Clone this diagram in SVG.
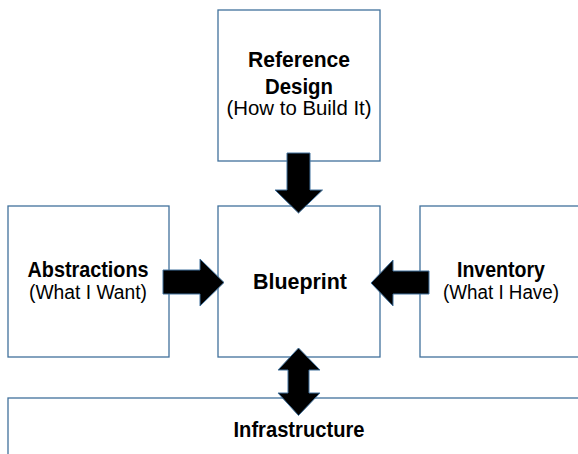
<svg xmlns="http://www.w3.org/2000/svg" width="578" height="454" viewBox="0 0 578 454">
<style>
.box{fill:#fff;stroke:#41719C;stroke-width:1.3}
.arr{fill:#000;stroke:#41719C;stroke-width:1}
.t{font-family:"Liberation Sans",Arial,sans-serif;font-size:22.5px;font-weight:bold;fill:#000;text-anchor:middle}
.s{font-family:"Liberation Sans",Arial,sans-serif;font-size:20px;fill:#000;text-anchor:middle}
</style>
<rect width="578" height="454" fill="#fff"/>
<g id="reference-design">
<rect class="box" x="218" y="10" width="162" height="151"/>
<text class="t" x="299" y="67" textLength="102" lengthAdjust="spacingAndGlyphs">Reference</text>
<text class="t" x="299" y="94" textLength="68" lengthAdjust="spacingAndGlyphs">Design</text>
<text class="s" x="299" y="115" textLength="145" lengthAdjust="spacingAndGlyphs">(How to Build It)</text>
</g>
<g id="abstractions">
<rect class="box" x="8" y="206" width="161" height="151"/>
<text class="t" x="88" y="277" textLength="121" lengthAdjust="spacingAndGlyphs">Abstractions</text>
<text class="s" x="88" y="299" textLength="118" lengthAdjust="spacingAndGlyphs">(What I Want)</text>
</g>
<g id="blueprint">
<rect class="box" x="218" y="206" width="162" height="151"/>
<text class="t" x="300" y="289" textLength="94" lengthAdjust="spacingAndGlyphs">Blueprint</text>
</g>
<g id="inventory">
<rect class="box" x="420" y="206" width="170" height="151"/>
<text class="t" x="501" y="277" textLength="88" lengthAdjust="spacingAndGlyphs">Inventory</text>
<text class="s" x="501" y="299" textLength="116" lengthAdjust="spacingAndGlyphs">(What I Have)</text>
</g>
<g id="infrastructure">
<rect class="box" x="8" y="398" width="590" height="80"/>
<text class="t" x="299" y="437" textLength="131" lengthAdjust="spacingAndGlyphs">Infrastructure</text>
</g>
<g id="connectors">
<path class="arr" d="M287,153 H310 V190 H322.5 L298.5,213 L275,190 H287 Z"/>
<path class="arr" d="M163,270 H200 V259 L224,282.5 L200,306 V294 H163 Z"/>
<path class="arr" d="M429,271 H393 V260 L371,283 L393,306 V294 H429 Z"/>
<path class="arr" d="M298.5,348 L320,370 H309 V393 H320 L298.5,415.5 L278,393 H288 V370 H278 Z"/>
</g>
</svg>
